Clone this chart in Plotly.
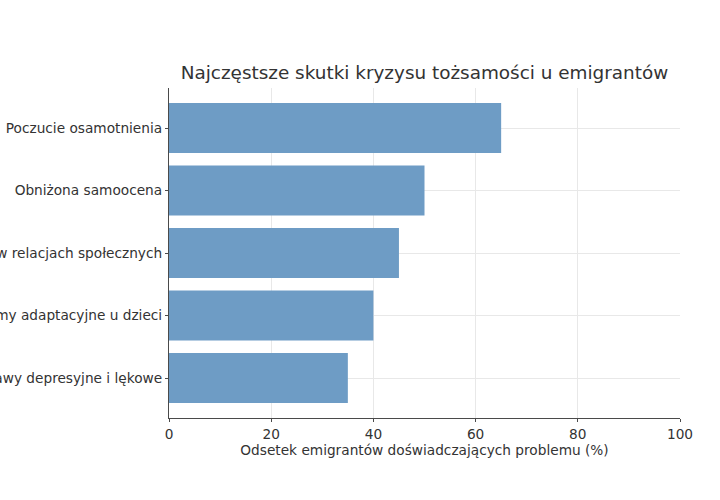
import plotly.graph_objects as go

categories = [
    "Poczucie osamotnienia",
    "Obniżona samoocena",
    "Trudności w relacjach społecznych",
    "Problemy adaptacyjne u dzieci",
    "Objawy depresyjne i lękowe",
]
values = [65, 50, 45, 40, 35]
x_ticks = [0, 20, 40, 60, 80, 100]

text_color = "#333333"
font_family = "DejaVu Sans"
label_size = 13.7

fig = go.Figure()
fig.add_trace(go.Bar(
    x=values,
    y=categories,
    orientation="h",
    width=0.8,
    marker=dict(color="rgb(110,156,197)", line=dict(width=0)),
))

fig.update_layout(
    width=720, height=500,
    margin=dict(l=169, r=40, t=88, b=82),
    paper_bgcolor="white",
    plot_bgcolor="white",
    showlegend=False,
    font=dict(family=font_family, size=label_size, color=text_color),
    title=dict(
        text="Najczęstsze skutki kryzysu tożsamości u emigrantów",
        x=0.5, xref="paper", xanchor="center",
        y=1 - 73 / 500, yref="container", yanchor="middle",
        font=dict(size=18.4, color=text_color),
    ),
)

fig.update_xaxes(
    range=[0, 100],
    tickvals=x_ticks,
    ticktext=[str(v) for v in x_ticks],
    showgrid=True, gridcolor="#e8e8e8", gridwidth=1,
    zeroline=False,
    showline=True, linecolor="#4a4a4a", linewidth=1.2,
    ticks="outside", ticklen=3, tickcolor="#4a4a4a",
    tickfont=dict(size=label_size, color=text_color),
    title=dict(text="Odsetek emigrantów doświadczających problemu (%)",
               font=dict(size=label_size, color=text_color), standoff=3),
    automargin=False,
)
fig.update_yaxes(
    categoryorder="array",
    categoryarray=categories[::-1],
    range=[-0.64, 4.64],
    showgrid=True, gridcolor="#e8e8e8", gridwidth=1,
    zeroline=False,
    showline=True, linecolor="#4a4a4a", linewidth=1.2,
    ticks="outside", ticklen=3, tickcolor="#4a4a4a",
    tickfont=dict(size=label_size, color=text_color),
    automargin=False,
)

fig.write_html("out.html", config={"displayModeBar": False},
               post_script="document.body.style.margin='0';")
